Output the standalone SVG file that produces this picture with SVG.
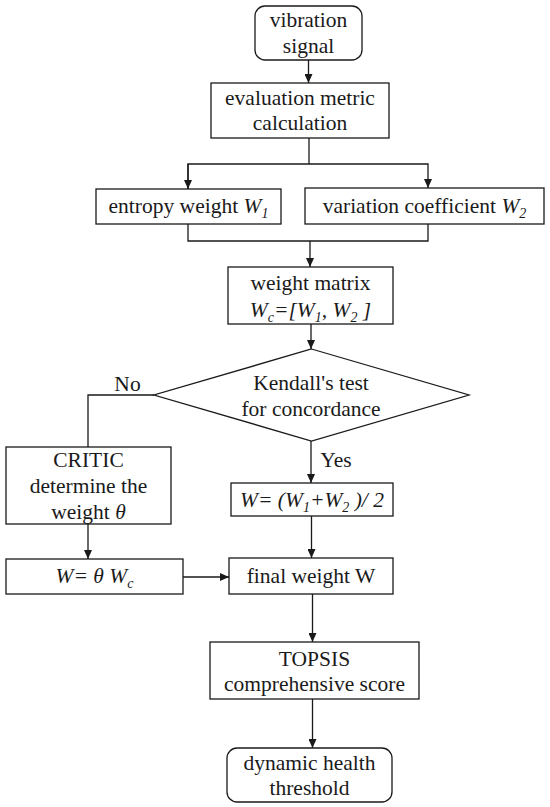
<svg xmlns="http://www.w3.org/2000/svg" width="550" height="807" viewBox="0 0 550 807">
<style>
.b{fill:#fff;stroke:#1a1a1a;stroke-width:1.3}
.t{font-family:'Liberation Serif','Times New Roman','DejaVu Serif',serif;font-size:21.5px;fill:#1a1a1a;text-anchor:middle}
.i{font-style:italic}
.s{font-size:14px;font-style:italic}
.c{fill:none;stroke:#1a1a1a;stroke-width:1.3}
</style>
<defs>
<marker id="a" markerWidth="10" markerHeight="8" refX="9" refY="4" orient="auto" markerUnits="userSpaceOnUse">
<path d="M0,0 L9,4 L0,8 Z" fill="#1a1a1a"/>
</marker>
</defs>
<rect width="550" height="807" fill="#fff"/>
<g id="connectors">
<line class="c" x1="308.5" y1="60" x2="308.5" y2="83" marker-end="url(#a)"/>
<line class="c" x1="309" y1="138" x2="309" y2="164"/>
<polyline class="c" points="188,189 188,164 428,164 428,188" marker-end="url(#a)"/>
<line class="c" x1="188" y1="164" x2="188" y2="189" marker-end="url(#a)"/>
<polyline class="c" points="188,224 188,241 428,241 428,224"/>
<line class="c" x1="310" y1="241" x2="310" y2="267" marker-end="url(#a)"/>
<line class="c" x1="311" y1="324" x2="311" y2="349" marker-end="url(#a)"/>
<polyline class="c" points="154,395 88,395 88,447"/>
<line class="c" x1="311" y1="441" x2="311" y2="483" marker-end="url(#a)"/>
<line class="c" x1="88" y1="524" x2="88" y2="559" marker-end="url(#a)"/>
<line class="c" x1="183" y1="577" x2="229" y2="577" marker-end="url(#a)"/>
<line class="c" x1="311.5" y1="516" x2="311.5" y2="558" marker-end="url(#a)"/>
<line class="c" x1="312.5" y1="594" x2="312.5" y2="642" marker-end="url(#a)"/>
<line class="c" x1="312.5" y1="699" x2="312.5" y2="748" marker-end="url(#a)"/>
<text class="t" font-family="Liberation Serif, serif" x="127.5" y="391">No</text>
<text class="t" font-family="Liberation Serif, serif" x="336" y="467">Yes</text>
</g>
<g id="vibration">
<rect class="b" x="255" y="6" width="107" height="54" rx="10"/>
<text class="t" x="308.5" y="27">vibration</text>
<text class="t" x="308.5" y="53">signal</text>
</g>
<g id="evaluation">
<rect class="b" x="211" y="83" width="178" height="55"/>
<text class="t" x="300" y="105">evaluation metric</text>
<text class="t" x="300" y="130">calculation</text>
</g>
<g id="entropy">
<rect class="b" x="96" y="189" width="185" height="35"/>
<text class="t" x="188.5" y="213">entropy weight <tspan class="i">W</tspan><tspan class="s" dy="5">1</tspan></text>
</g>
<g id="variation">
<rect class="b" x="305" y="188" width="239" height="36"/>
<text class="t" x="424.5" y="213">variation coefficient <tspan class="i">W</tspan><tspan class="s" dy="5">2</tspan></text>
</g>
<g id="matrix">
<rect class="b" x="228" y="267" width="165" height="57"/>
<text class="t" x="310.5" y="290">weight matrix</text>
<text class="t i" x="310.5" y="317">W<tspan class="s" dy="5">c</tspan><tspan dy="-5">=[W</tspan><tspan class="s" dy="5">1</tspan><tspan dy="-5">, W</tspan><tspan class="s" dy="5">2</tspan><tspan dy="-5"> ]</tspan></text>
</g>
<g id="kendall">
<polygon class="b" points="311.5,349 469,395 311.5,441 154,395"/>
<text class="t" x="311" y="390">Kendall's test</text>
<text class="t" x="311" y="416">for concordance</text>
</g>
<g id="critic">
<rect class="b" x="6" y="447" width="165" height="77"/>
<text class="t" x="88.5" y="467">CRITIC</text>
<text class="t" x="88.5" y="493">determine the</text>
<text class="t" x="88.5" y="519">weight <tspan class="i">θ</tspan></text>
</g>
<g id="average">
<rect class="b" x="231" y="483" width="162" height="33"/>
<text class="t i" x="312" y="507">W= (W<tspan class="s" dy="5">1</tspan><tspan dy="-5">+W</tspan><tspan class="s" dy="5">2</tspan><tspan dy="-5"> )/ 2</tspan></text>
</g>
<g id="thetaw">
<rect class="b" x="6" y="559" width="177" height="35"/>
<text class="t i" x="94.5" y="583">W= θ W<tspan class="s" dy="5">c</tspan></text>
</g>
<g id="final">
<rect class="b" x="229" y="558" width="164" height="36"/>
<text class="t" x="311" y="583">final weight W</text>
</g>
<g id="topsis">
<rect class="b" x="210" y="642" width="209" height="57"/>
<text class="t" x="314.5" y="666">TOPSIS</text>
<text class="t" x="314.5" y="691">comprehensive score</text>
</g>
<g id="threshold">
<rect class="b" x="227" y="748" width="165" height="54" rx="10"/>
<text class="t" x="309.5" y="770">dynamic health</text>
<text class="t" x="309.5" y="795">threshold</text>
</g>
</svg>
